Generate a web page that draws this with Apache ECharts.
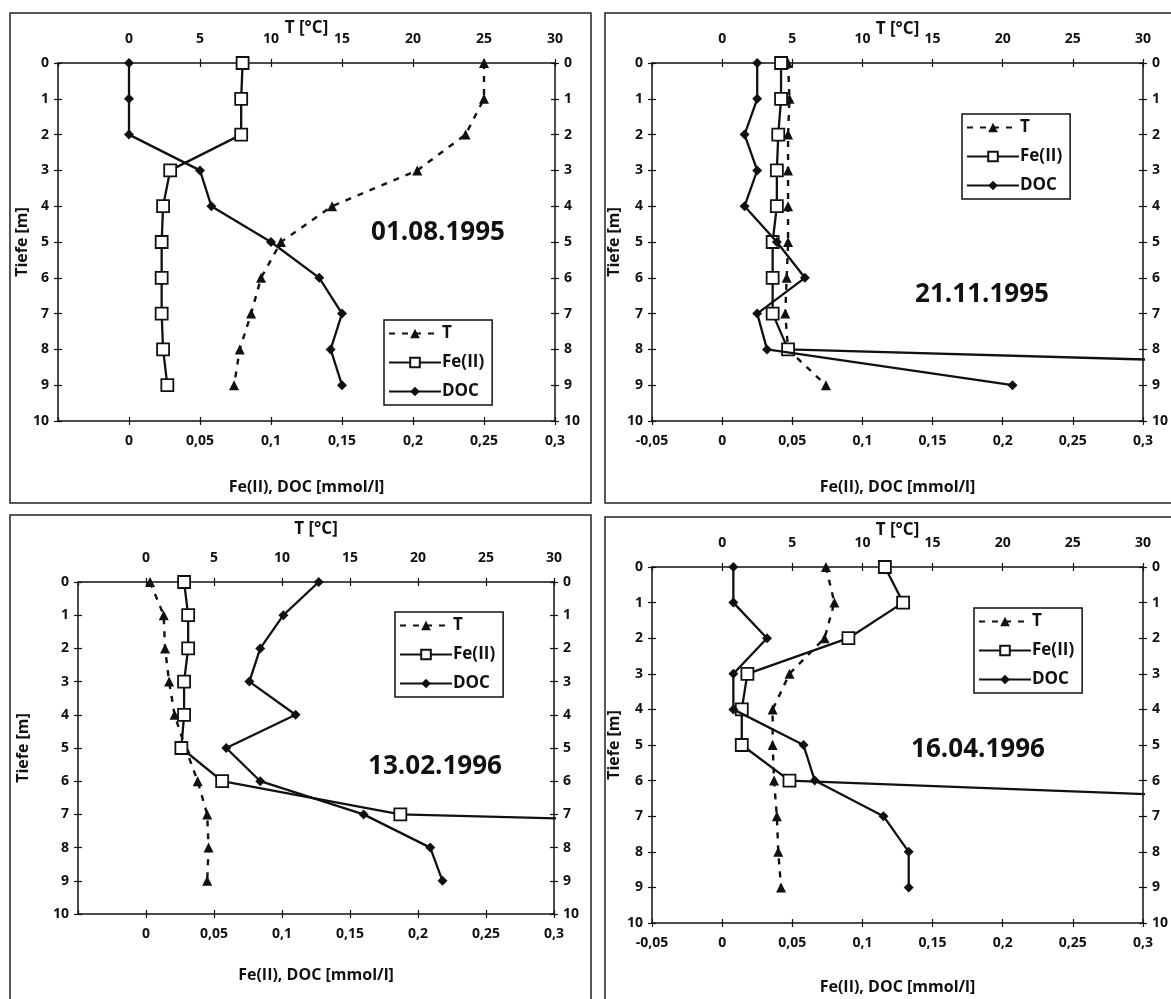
<!DOCTYPE html>
<html><head><meta charset="utf-8">
<script src="https://cdn.jsdelivr.net/npm/echarts@6/dist/echarts.min.js"></script>
<style>html,body{margin:0;padding:0;background:#fff}#c{width:1171px;height:999px}</style>
</head><body><div id="c"></div><script>
// depth [m]
const depths = [0,1,2,3,4,5,6,7,8,9,10];
const dates = ['01.08.1995','21.11.1995','13.02.1996','16.04.1996'];
const tTicks = [-5,0,5,10,15,20,25,30];
const mmolTicks = [-0.05,0,0.05,0.1,0.15,0.2,0.25,0.3];
// Panel 1: 01.08.1995
const t1   = [25,25,23.7,20.3,14.3,10.7,9.3,8.6,7.8,7.4];
const fe1  = [0.080,0.079,0.079,0.029,0.024,0.023,0.023,0.023,0.024,0.027];
const doc1 = [0,0,0,0.050,0.058,0.100,0.134,0.150,0.142,0.150];
// Panel 2: 21.11.1995
const t2   = [4.7,4.8,4.7,4.7,4.7,4.7,4.6,4.5,4.7,7.4];
const fe2  = [0.042,0.042,0.040,0.039,0.039,0.036,0.036,0.036,0.047,0.95];
const doc2 = [0.025,0.025,0.016,0.025,0.016,0.039,0.059,0.025,0.032,0.207];
// Panel 3: 13.02.1996
const t3   = [0.3,1.3,1.4,1.7,2.1,2.9,3.8,4.5,4.6,4.5];
const fe3  = [0.028,0.031,0.031,0.028,0.028,0.026,0.056,0.187,1.15];
const doc3 = [0.127,0.101,0.084,0.076,0.110,0.059,0.084,0.160,0.209,0.218];
// Panel 4: 16.04.1996
const t4   = [7.4,8.0,7.3,4.8,3.6,3.6,3.7,3.9,4.0,4.2];
const fe4  = [0.116,0.129,0.090,0.018,0.014,0.014,0.048,0.72];
const doc4 = [0.008,0.008,0.032,0.008,0.008,0.058,0.066,0.115,0.133,0.133];

const FONT = 'Open Sans';
const INK = '#111';
const layout = [
  {grid:{left:58,top:63,width:497,height:358}, showMin:false, tGap:26, xGap:58, yGap:28, legend:{left:384,top:320}, date:[438,233], border:[10,13,581,490]},
  {grid:{left:652,top:63,width:493,height:358}, showMin:true, tGap:25, xGap:58, yGap:30, legend:{left:962,top:114}, date:[982,295], border:[605,13,600,490]},
  {grid:{left:78,top:582,width:476,height:332}, showMin:false, tGap:44, xGap:53, yGap:47, legend:{left:395,top:612}, date:[435,767], border:[10,515,581,520]},
  {grid:{left:652,top:567,width:493,height:356}, showMin:true, tGap:28, xGap:56, yGap:30, legend:{left:974,top:608}, date:[978,750], border:[605,517,600,520]}
];
const seriesData = [[t1,fe1,doc1],[t2,fe2,doc2],[t3,fe3,doc3],[t4,fe4,doc4]];

const fmt = v => String(Math.round(v*100)/100).replace('.', ',');
const lbl = {fontFamily:FONT, fontWeight:'bold', fontSize:14, color:INK};
const nameSt = {fontFamily:FONT, fontWeight:'bold', fontSize:16, color:INK};

const grids=[], xAxes=[], yAxes=[], series=[], legends=[], graphics=[];
layout.forEach((p,i)=>{
  grids.push(p.grid);
  const base = {gridIndex:i, type:'value', splitLine:{show:false}};
  const line = {show:true, onZero:false, lineStyle:{color:INK, width:1.5}};
  const noLine = {show:false, onZero:false};
  const tickOut = {show:true, length:4, lineStyle:{color:INK, width:1.2}};
  const tickIn = {show:true, inside:true, length:4, lineStyle:{color:INK, width:1.2}};
  // bottom mmol axis
  xAxes.push(Object.assign({}, base, {position:'bottom', min:-0.05, max:0.3, interval:0.05,
    axisLine:line, axisTick:tickOut,
    axisLabel:Object.assign({}, lbl, {margin:13, showMinLabel:p.showMin, formatter:fmt}),
    name:'Fe(II), DOC [mmol/l]', nameLocation:'middle', nameGap:p.xGap, nameMoveOverlap:false, nameTextStyle:nameSt}));
  xAxes.push(Object.assign({}, base, {position:'bottom', min:-0.05, max:0.3, interval:0.05,
    axisLine:noLine, axisTick:tickIn, axisLabel:{show:false}}));
  // top T axis
  xAxes.push(Object.assign({}, base, {position:'top', min:-5, max:30, interval:5,
    axisLine:line, axisTick:tickOut,
    axisLabel:Object.assign({}, lbl, {margin:17, showMinLabel:false}),
    name:'T [°C]', nameLocation:'middle', nameGap:p.tGap, nameMoveOverlap:false,
    nameTextStyle:Object.assign({}, nameSt, {fontSize:17})}));
  xAxes.push(Object.assign({}, base, {position:'top', min:-5, max:30, interval:5,
    axisLine:noLine, axisTick:tickIn, axisLabel:{show:false}}));
  // left/right depth axes
  const yb = Object.assign({}, base, {inverse:true, min:0, max:10, interval:1});
  yAxes.push(Object.assign({}, yb, {position:'left', axisLine:line, axisTick:tickOut,
    axisLabel:Object.assign({}, lbl, {margin:9}),
    name:'Tiefe [m]', nameLocation:'middle', nameGap:p.yGap, nameMoveOverlap:false, nameRotate:90, nameTextStyle:nameSt}));
  yAxes.push(Object.assign({}, yb, {position:'left', axisLine:noLine, axisTick:tickIn, axisLabel:{show:false}}));
  yAxes.push(Object.assign({}, yb, {position:'right', axisLine:line, axisTick:tickOut,
    axisLabel:Object.assign({}, lbl, {margin:9})}));
  yAxes.push(Object.assign({}, yb, {position:'right', axisLine:noLine, axisTick:tickIn, axisLabel:{show:false}}));

  const [t,fe,doc] = seriesData[i];
  series.push({name:'T', type:'line', xAxisIndex:4*i+2, yAxisIndex:4*i,
    data:t.map((v,j)=>[v,depths[j]]), symbol:'triangle', symbolSize:10,
    itemStyle:{color:INK}, lineStyle:{color:INK, width:2.4, type:[6,7]}, z:2});
  series.push({name:'Fe(II)', type:'line', xAxisIndex:4*i, yAxisIndex:4*i,
    data:fe.map((v,j)=>[v,depths[j]]), symbol:'rect', symbolSize:12,
    itemStyle:{color:'#fff', borderColor:INK, borderWidth:1.8}, lineStyle:{color:INK, width:2.3}, z:3});
  series.push({name:'DOC', type:'line', xAxisIndex:4*i, yAxisIndex:4*i,
    data:doc.map((v,j)=>[v,depths[j]]), symbol:'diamond', symbolSize:10,
    itemStyle:{color:INK}, lineStyle:{color:INK, width:2.3}, z:4});

  legends.push({data:['T','Fe(II)','DOC'], left:p.legend.left, top:p.legend.top, orient:'vertical',
    itemWidth:52, itemHeight:12, itemGap:12, selectedMode:false,
    borderColor:INK, borderWidth:1.5, padding:[5,8,5,4],
    textStyle:{fontFamily:FONT, fontWeight:'bold', fontSize:17, color:INK, padding:[0,0,0,-4]}});

  const b = p.border;
  graphics.push({type:'rect', shape:{x:b[0], y:b[1], width:b[2], height:b[3]},
    style:{fill:null, stroke:'#222', lineWidth:1.5}, silent:true, z:-1});
  graphics.push({type:'text', x:p.date[0], y:p.date[1],
    style:{text:dates[i], font:'bold 26px "Open Sans"', fill:INK, textAlign:'center', textVerticalAlign:'middle'}});
});

const chart = echarts.init(document.getElementById('c'), null, {renderer:'canvas'});
chart.setOption({animation:false, backgroundColor:'#fff',
  grid:grids, xAxis:xAxes, yAxis:yAxes, series:series, legend:legends, graphic:graphics});
</script></body></html>
